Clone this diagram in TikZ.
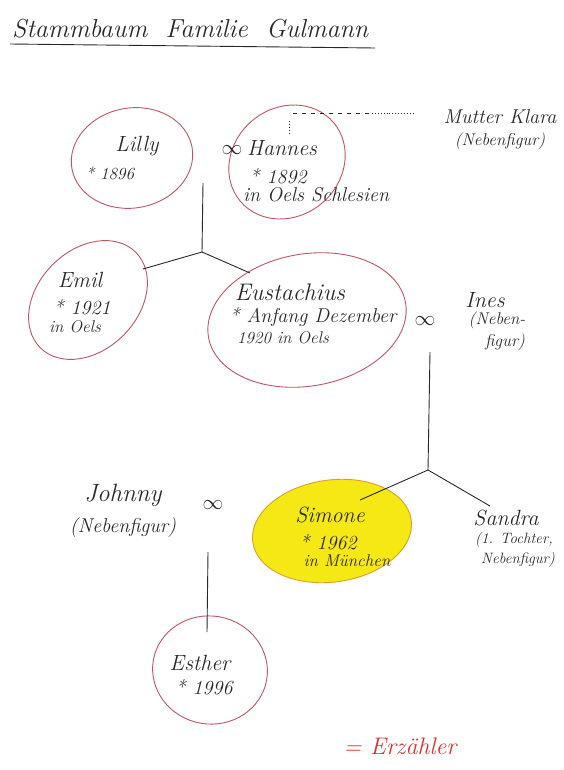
\documentclass[tikz,border=0pt]{standalone}
\usetikzlibrary{shapes.geometric}
\definecolor{ring}{RGB}{190,85,95}
\definecolor{ink}{RGB}{40,40,40}
\definecolor{hilite}{RGB}{246,232,20}
\definecolor{hiliteborder}{RGB}{215,160,40}
\definecolor{narrator}{RGB}{215,50,45}
\begin{document}
\begin{tikzpicture}[x=1pt,y=-1pt,
  personring/.style={draw=ring, line width=0.9pt, ellipse, inner sep=0pt},
  pname/.style={font=\itshape\fontsize{22}{24}\selectfont, text=ink, inner sep=0pt},
  pinfo/.style={font=\itshape\fontsize{17}{19}\selectfont, text=ink, inner sep=0pt},
  psmall/.style={font=\itshape\fontsize{15}{17}\selectfont, text=ink, inner sep=0pt},
  pbig/.style={font=\itshape\fontsize{20}{22}\selectfont, text=ink, inner sep=0pt},
  pmarr/.style={font=\fontsize{22}{22}\selectfont, text=ink, inner sep=0pt},
  plink/.style={draw=ink, line width=0.9pt}]
\useasboundingbox (0,0) rectangle (564,770);

% title
\node[pname, font=\itshape\fontsize{26}{28}\selectfont, anchor=base west] (title) at (12,38) {Stammbaum \ Familie \ Gulmann};
\coordinate (ulA) at (10,44);
\coordinate (ulB) at (375,48);
\draw[ink, line width=0.9pt] (ulA) -- (ulB);

% ellipses
\node[personring, minimum width=122, minimum height=100, rotate=10] (lilly) at (132,158) {};
\node[personring, minimum width=122, minimum height=108, rotate=40] (hannes) at (287,162) {};
\node[personring, minimum width=135, minimum height=100, rotate=45] (emil) at (88,300) {};
\node[personring, minimum width=200, minimum height=132, rotate=10] (eust) at (307,320) {};
\node[personring, draw=hiliteborder, fill=hilite, minimum width=160, minimum height=102, rotate=8] (simone) at (332,531) {};
\node[personring, minimum width=115, minimum height=108, rotate=-10] (esther) at (210,670) {};

% texts
\node[pname] (lillyN) at (137,146) {Lilly};
\node[pinfo] (lillyI) at (110,173) {* 1896};
\node[pmarr] (m1) at (232,150) {$\infty$};
\node[pname] (hannesN) at (282,148) {Hannes};
\node[pbig] (hannesI) at (278,176) {* 1892};
\node[pbig, anchor=west] (hannesO) at (243,195) {in Oels Schlesien};
\node[pbig] (mutterN) at (500,117) {Mutter Klara};
\node[pinfo] (mutterI) at (500,141) {(Nebenfigur)};

\node[pname] (emilN) at (80,280) {Emil};
\node[pbig] (emilI) at (82,307) {* 1921};
\node[pinfo] (emilO) at (75,327) {in Oels};

\node[pname, font=\itshape\fontsize{24}{26}\selectfont] (eustN) at (290,292) {Eustachius};
\node[pbig] (eustI) at (313,317) {* Anfang Dezember};
\node[pinfo] (eustO) at (283,338) {1920 in Oels};
\node[pmarr] (m2) at (425,321) {$\infty$};
\node[pname] (inesN) at (485,300) {Ines};
\node[pinfo] (inesI) at (497,320) {(Neben-};
\node[pinfo] (inesJ) at (505,342) {figur)};

\node[pname, font=\itshape\fontsize{25}{27}\selectfont] (johnN) at (123,495) {Johnny};
\node[pbig] (johnI) at (123,528) {(Nebenfigur)};
\node[pmarr] (m3) at (213,505) {$\infty$};

\node[pname] (simN) at (330,515) {Simone};
\node[pbig] (simI) at (328,542) {* 1962};
\node[pinfo] (simO) at (347,561) {in M\"unchen};

\node[pname] (sandN) at (506,518) {Sandra};
\node[psmall] (sandI) at (514,540) {(1. Tochter,};
\node[psmall] (sandJ) at (518,560) {Nebenfigur)};

\node[pname] (estN) at (200,663) {Esther};
\node[pbig] (estI) at (204,687) {* 1996};

\node[pname, font=\itshape\fontsize{24}{26}\selectfont, text=narrator] (erz) at (400,746) {= Erz\"ahler};

% connectors
\coordinate (top1) at (203,183);
\coordinate (j1) at (202,252);
\coordinate (emilEnd) at (143,269);
\coordinate (eustEnd) at (250,273);
\draw[plink] (top1) -- (j1);
\draw[plink] (j1) -- (emilEnd);
\draw[plink] (j1) -- (eustEnd);

\coordinate (top2) at (430,352);
\coordinate (j2) at (428,470);
\coordinate (simEnd) at (360,500);
\coordinate (sandEnd) at (490,506);
\draw[plink] (top2) -- (j2);
\draw[plink] (j2) -- (simEnd);
\draw[plink] (j2) -- (sandEnd);

\coordinate (top3) at (208,552);
\coordinate (estEnd) at (207,632);
\draw[plink] (top3) -- (estEnd);

% dotted link to Mutter
\coordinate (d0) at (293,113);
\coordinate (d1) at (372,113);
\coordinate (d2) at (415,113);
\coordinate (v0) at (289,121);
\coordinate (v1) at (289,134);
\draw[ink, line width=0.9pt, dash pattern=on 4pt off 5pt] (d0) -- (d1);
\draw[ink, line width=0.9pt, dotted] (d1) -- (d2);
\draw[ink, line width=0.9pt, dotted] (v0) -- (v1);
\end{tikzpicture}
\end{document}
